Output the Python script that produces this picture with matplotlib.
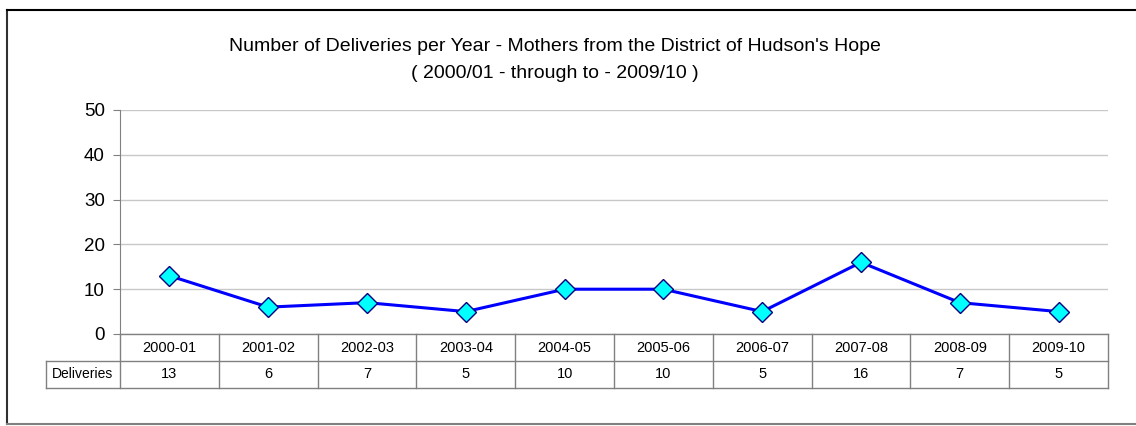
import matplotlib
matplotlib.use("Agg")
import matplotlib.pyplot as plt
from matplotlib.lines import Line2D
import matplotlib.transforms as mtransforms

# datos
years = ["2000-01", "2001-02", "2002-03", "2003-04", "2004-05",
         "2005-06", "2006-07", "2007-08", "2008-09", "2009-10"]
deliveries = [13, 6, 7, 5, 10, 10, 5, 16, 7, 5]
row_label = "Deliveries"
title = ("Number of Deliveries per Year - Mothers from the District of Hudson's Hope\n"
         "( 2000/01 - through to - 2009/10 )")

plt.rcParams['font.family'] = ['Liberation Sans', 'DejaVu Sans']

W, H = 1136, 426
fig = plt.figure(figsize=(W / 100, H / 100), dpi=100)
ax = fig.add_axes([120 / W, 1 - 334 / H, (1108 - 120) / W, (334 - 110) / H])

x = list(range(len(years)))
ax.plot(x, deliveries, color='#0000FF', lw=2.2, marker='D', ms=10,
        markerfacecolor='#00FFFF', markeredgecolor='#000080', markeredgewidth=1, zorder=3)

ax.set_xlim(-0.5, len(years) - 0.5)
ax.set_ylim(0, 50)
ax.set_yticks([0, 10, 20, 30, 40, 50])
ax.tick_params(axis='y', labelsize=13.5, length=5, color='#808080', pad=6)
ax.set_xticks([])
ax.grid(axis='y', color='#C8C8C8', lw=1)
ax.set_axisbelow(True)
for s in ['top', 'right', 'bottom']:
    ax.spines[s].set_visible(False)
ax.spines['left'].set_color('#808080')

# tabla de datos debajo del eje
tr = mtransforms.blended_transform_factory(ax.transData, ax.transAxes)
rh = 27 / 224
gc = '#808080'
n = len(years)
for yy in [0, -rh, -2 * rh]:
    x0 = -0.5 if yy == 0 else -1.249
    ax.add_line(Line2D([x0, n - 0.5], [yy, yy], transform=tr, color=gc, lw=1, clip_on=False))
for i in range(n + 1):
    ax.add_line(Line2D([i - 0.5, i - 0.5], [0, -2 * rh], transform=tr, color=gc, lw=1, clip_on=False))
ax.add_line(Line2D([-1.249, -1.249], [-rh, -2 * rh], transform=tr, color=gc, lw=1, clip_on=False))
for i in range(n):
    ax.text(i, -rh / 2, years[i], transform=tr, ha='center', va='center', fontsize=10.5)
    ax.text(i, -1.5 * rh, str(deliveries[i]), transform=tr, ha='center', va='center', fontsize=10.5)
ax.text((-1.249 - 0.5) / 2, -1.5 * rh, row_label, transform=tr, ha='center', va='center', fontsize=10)

fig.text(555 / W, 1 - 60 / H, title, ha='center', va='center', fontsize=14, linespacing=1.75)

# marco del grafico
fig.add_artist(Line2D([7 / W, 7 / W], [1 - 10 / H, 1 - 424 / H], transform=fig.transFigure, color='#303030', lw=1.5))
fig.add_artist(Line2D([7 / W, 1], [1 - 10 / H, 1 - 10 / H], transform=fig.transFigure, color='black', lw=1.5))
fig.add_artist(Line2D([7 / W, 1], [1 - 424 / H, 1 - 424 / H], transform=fig.transFigure, color='#808080', lw=1.5))

fig.savefig("out.png", dpi=100)
